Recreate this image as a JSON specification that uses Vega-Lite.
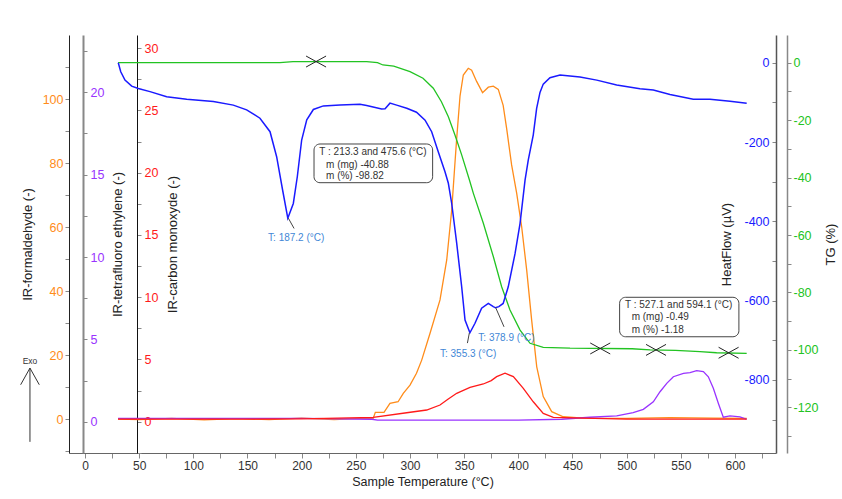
{
  "$schema": "https://vega.github.io/schema/vega-lite/v6.json",
  "width": 707,
  "height": 418,
  "autosize": {"type": "none"},
  "padding": {"left": 69, "top": 35, "right": 66, "bottom": 46},
  "background": "white",
  "config": {
    "view": {"stroke": null},
    "font": "Liberation Sans",
    "axis": {"grid": false, "labelFont": "Liberation Sans", "titleFont": "Liberation Sans", "titleFontWeight": "normal", "labelFontSize": 12.5, "titleFontSize": 13, "tickColor": "#888", "tickSize": 4, "titleColor": "#222"}
  },
  "datasets": {
    "hf": [
      {"t":30.7,"v":0},{"t":33,"v":-23},{"t":36.9,"v":-44},{"t":43.1,"v":-59},{"t":49.2,"v":-65},{"t":60,"v":-73},{"t":75.4,"v":-86},{"t":93.9,"v":-92},{"t":118.5,"v":-98},{"t":136.9,"v":-107},{"t":149.2,"v":-119},{"t":161.5,"v":-140},{"t":170.8,"v":-174},{"t":176.9,"v":-237},{"t":182.4,"v":-321},{"t":187.2,"v":-392},{"t":192.3,"v":-355},{"t":196,"v":-287},{"t":200,"v":-195},{"t":204.7,"v":-144},{"t":210.8,"v":-118},{"t":220,"v":-109},{"t":235.4,"v":-107},{"t":253.8,"v":-105},{"t":260,"v":-108},{"t":273.8,"v":-117},{"t":277,"v":-116},{"t":281.5,"v":-102},{"t":287.7,"v":-107},{"t":297,"v":-115},{"t":306,"v":-125},{"t":313.9,"v":-145},{"t":320,"v":-174},{"t":326,"v":-224},{"t":332.3,"v":-275},{"t":335.4,"v":-304},{"t":338.5,"v":-355},{"t":343.1,"v":-455},{"t":347.7,"v":-565},{"t":350.8,"v":-649},{"t":355.3,"v":-681},{"t":360,"v":-657},{"t":366.1,"v":-619},{"t":372.3,"v":-607},{"t":376.9,"v":-615},{"t":378.9,"v":-618},{"t":382,"v":-615},{"t":386,"v":-607},{"t":390.7,"v":-565},{"t":397,"v":-481},{"t":401.6,"v":-405},{"t":406.2,"v":-296},{"t":409.2,"v":-245},{"t":413.8,"v":-182},{"t":416.9,"v":-115},{"t":420,"v":-75},{"t":423,"v":-54},{"t":429.2,"v":-38},{"t":438.5,"v":-31},{"t":456.9,"v":-36},{"t":472.4,"v":-44},{"t":490.8,"v":-56},{"t":512.3,"v":-66},{"t":524.6,"v":-69},{"t":540,"v":-80},{"t":561.5,"v":-92},{"t":576.9,"v":-92},{"t":595.4,"v":-97},{"t":610.8,"v":-102}
    ],
    "tg": [
      {"t":30.5,"v":0},{"t":100,"v":0},{"t":180,"v":0},{"t":192,"v":0.4},{"t":260,"v":0.4},{"t":270,"v":0},{"t":275,"v":-0.8},{"t":285,"v":-1.2},{"t":300,"v":-3.1},{"t":312,"v":-5.4},{"t":321.5,"v":-8.9},{"t":329,"v":-13.6},{"t":335.4,"v":-18.8},{"t":341.5,"v":-25.2},{"t":347.7,"v":-32.1},{"t":355,"v":-41},{"t":358.5,"v":-45.5},{"t":367.7,"v":-55.9},{"t":376.9,"v":-67.5},{"t":384.6,"v":-78},{"t":392.3,"v":-86.1},{"t":401.6,"v":-93.1},{"t":410.8,"v":-97.7},{"t":423,"v":-99.1},{"t":447.7,"v":-99.4},{"t":505,"v":-99.6},{"t":521.6,"v":-100},{"t":545,"v":-100.2},{"t":567.7,"v":-100.6},{"t":583,"v":-101},{"t":610.8,"v":-101.2}
    ],
    "form": [
      {"t":30.5,"v":0},{"t":50,"v":-0.2},{"t":80,"v":0.2},{"t":110,"v":-0.3},{"t":140,"v":0.1},{"t":170,"v":-0.2},{"t":200,"v":0.3},{"t":230,"v":-0.2},{"t":255,"v":0.2},{"t":266,"v":0.2},{"t":268,"v":2.1},{"t":276,"v":2.1},{"t":281.5,"v":4.9},{"t":289,"v":5.4},{"t":293.8,"v":8},{"t":300,"v":10.6},{"t":306,"v":14.3},{"t":310.8,"v":18.4},{"t":318.5,"v":26.8},{"t":327.7,"v":37.2},{"t":333.9,"v":49.7},{"t":338.5,"v":65.3},{"t":341.5,"v":80},{"t":343.1,"v":87.7},{"t":346.2,"v":101},{"t":349.2,"v":107.5},{"t":353.8,"v":109.6},{"t":356.9,"v":109},{"t":361.5,"v":105.5},{"t":367,"v":102},{"t":372.3,"v":103.7},{"t":376.9,"v":104},{"t":381.5,"v":103},{"t":386,"v":98},{"t":389.2,"v":90.8},{"t":393.8,"v":79.4},{"t":398.5,"v":70.5},{"t":403.1,"v":60},{"t":407.7,"v":46.6},{"t":412.3,"v":30.9},{"t":417,"v":16.3},{"t":423,"v":7},{"t":430.8,"v":2.3},{"t":441.5,"v":0.7},{"t":460,"v":0.3},{"t":500,"v":0.2},{"t":540,"v":0.4},{"t":580,"v":0.3},{"t":610.8,"v":0.2}
    ],
    "co": [
      {"t":30.5,"v":0.2},{"t":100,"v":0.2},{"t":200,"v":0.22},{"t":266,"v":0.35},{"t":296.9,"v":0.72},{"t":315.4,"v":0.94},{"t":327.7,"v":1.34},{"t":335,"v":1.8},{"t":343.1,"v":2.28},{"t":355.4,"v":2.76},{"t":367.7,"v":3.03},{"t":375,"v":3.3},{"t":380,"v":3.62},{"t":387.7,"v":3.89},{"t":395.4,"v":3.62},{"t":404.6,"v":2.68},{"t":413.8,"v":1.6},{"t":423,"v":0.67},{"t":432.3,"v":0.35},{"t":450.8,"v":0.3},{"t":500,"v":0.2},{"t":560,"v":0.2},{"t":610.8,"v":0.2}
    ],
    "tfe": [
      {"t":30.5,"v":0.2},{"t":200,"v":0.2},{"t":265,"v":0.15},{"t":270,"v":0.1},{"t":400,"v":0.1},{"t":440,"v":0.15},{"t":466,"v":0.27},{"t":490.8,"v":0.35},{"t":506,"v":0.55},{"t":515.4,"v":0.75},{"t":524.6,"v":1.21},{"t":530.8,"v":1.82},{"t":537,"v":2.33},{"t":543.1,"v":2.73},{"t":552.4,"v":2.94},{"t":558.5,"v":2.98},{"t":564.6,"v":3.1},{"t":570.8,"v":3.04},{"t":575.4,"v":2.73},{"t":580,"v":2.03},{"t":584.6,"v":1.12},{"t":589.2,"v":0.27},{"t":595.4,"v":0.35},{"t":604.6,"v":0.3},{"t":610.8,"v":0.15}
    ],
    "markers": [
      {"t":213.3,"v":0.4},{"t":475.6,"v":-99.5},{"t":527.1,"v":-100},{"t":594.1,"v":-101}
    ],
    "boxes": [
      {"t":211.4,"t2":320.9,"v":-205,"v2":-302.6},
      {"t":493.5,"t2":603.6,"v":-591.5,"v2":-691}
    ],
    "boxtext": [
      {"t":216.3,"v":-224,"label":"T : 213.3 and 475.6 (°C)"},
      {"t":222.5,"v":-257,"label":"m (mg) -40.88"},
      {"t":222.5,"v":-286,"label":"m (%) -98.82"},
      {"t":498.5,"v":-610,"label":"T : 527.1 and 594.1 (°C)"},
      {"t":504.6,"v":-642,"label":"m (mg) -0.49"},
      {"t":504.6,"v":-674,"label":"m (%) -1.18"}
    ],
    "peaks": [
      {"t":169,"v":-441,"label":"T: 187.2 (°C)"},
      {"t":327.7,"v":-735,"label":"T: 355.3 (°C)"},
      {"t":363.1,"v":-693,"label":"T: 378.9 (°C)"}
    ],
    "leaders": [
      {"t":187.7,"v":-392,"t2":193,"v2":-418},
      {"t":354.8,"v":-681,"t2":353,"v2":-707},
      {"t":379,"v":-617,"t2":386.8,"v2":-666}
    ],
    "exoarrow": [
      {"t":-50.8,"v":-770,"t2":-50.8,"v2":-956},
      {"t":-59.4,"v":-812,"t2":-50.8,"v2":-770},
      {"t":-42.2,"v":-812,"t2":-50.8,"v2":-770}
    ],
    "exotext": [
      {"t":-50.8,"v":-751,"label":"Exo"}
    ]
  },
  "encoding": {
    "x": {"field": "t", "type": "quantitative", "scale": {"domain": [-14.77, 637.85], "nice": false, "zero": false},
      "axis": {"orient": "bottom", "title": "Sample Temperature (°C)", "values": [0,25,50,75,100,125,150,175,200,225,250,275,300,325,350,375,400,425,450,475,500,525,550,575,600,625], "labelExpr": "datum.value % 50 === 0 ? '' + datum.value : ''", "labelFontSize": 12, "labelColor": "#333", "titleFontSize": 12.5, "domainColor": "#666", "tickSize": 5, "labelPadding": 2, "titlePadding": 4}}
  },
  "layer": [
    {
      "data": {"name": "form"},
      "mark": {"type": "line", "color": "#ff8c1a", "strokeWidth": 1.3},
      "encoding": {
        "y": {"field": "v", "type": "quantitative", "scale": {"domain": [-10.625, 120], "nice": false, "zero": false},
          "axis": {"orient": "left", "offset": 0, "title": "IR-formaldehyde (-)", "values": [-10,0,10,20,30,40,50,60,70,80,90,100,110], "labelExpr": "datum.value % 20 === 0 ? '' + datum.value : ''", "labelColor": "#ff8c1a", "domainColor": "#222", "labelPadding": 2, "titlePadding": 8}}
      }
    },
    {
      "data": {"name": "tfe"},
      "mark": {"type": "line", "color": "#9933ff", "strokeWidth": 1.3},
      "encoding": {
        "y": {"field": "v", "type": "quantitative", "scale": {"domain": [-1.9, 23.48], "nice": false, "zero": false},
          "axis": {"orient": "right", "offset": -693, "title": "IR-tetrafluoro ethylene (-)", "titleAngle": -90, "titleBaseline": "top", "values": [0,2.5,5,7.5,10,12.5,15,17.5,20,22.5], "labelExpr": "datum.value % 5 === 0 ? '' + datum.value : ''", "labelColor": "#9933ff", "domainColor": "#888", "domainWidth": 2, "labelPadding": 3, "titlePadding": 8}}
      }
    },
    {
      "data": {"name": "co"},
      "mark": {"type": "line", "color": "#ff1a1a", "strokeWidth": 1.3},
      "encoding": {
        "y": {"field": "v", "type": "quantitative", "scale": {"domain": [-2.514, 31.06], "nice": false, "zero": false},
          "axis": {"orient": "right", "offset": -639, "title": "IR-carbon monoxyde (-)", "titleAngle": -90, "titleBaseline": "top", "values": [-2.5,0,2.5,5,7.5,10,12.5,15,17.5,20,22.5,25,27.5,30], "labelExpr": "datum.value % 5 === 0 ? '' + datum.value : ''", "labelColor": "#ff1a1a", "domainColor": "#111", "labelPadding": 3, "titlePadding": 9}}
      }
    },
    {
      "data": {"name": "tg"},
      "mark": {"type": "line", "color": "#22c322", "strokeWidth": 1.3},
      "encoding": {
        "y": {"field": "v", "type": "quantitative", "scale": {"domain": [-135.9, 9.64], "nice": false, "zero": false},
          "axis": {"orient": "right", "offset": 11, "title": "TG (%)", "titleAngle": -90, "titleBaseline": "top", "values": [0,-10,-20,-30,-40,-50,-60,-70,-80,-90,-100,-110,-120,-130], "labelExpr": "datum.value % 20 === 0 ? '' + datum.value : ''", "labelColor": "#22c322", "labelOverlap": false, "domainColor": "#888", "domainWidth": 1.5, "labelPadding": 2, "titlePadding": 6}}
      }
    },
    {
      "data": {"name": "markers"},
      "mark": {"type": "point", "shape": "M-1,-0.55L1,0.55M-1,0.55L1,-0.55", "size": 400, "stroke": "#222", "strokeWidth": 1, "filled": false, "opacity": 1},
      "encoding": {
        "y": {"field": "v", "type": "quantitative", "scale": {"domain": [-135.9, 9.64], "nice": false, "zero": false}, "axis": null}
      }
    },
    {
      "data": {"name": "hf"},
      "mark": {"type": "line", "color": "#1a1aff", "strokeWidth": 1.5},
      "encoding": {
        "y": {"field": "v", "type": "quantitative", "scale": {"domain": [-984.1, 69.8], "nice": false, "zero": false},
          "axis": {"orient": "left", "offset": -707, "title": "HeatFlow (µV)", "values": [0,-100,-200,-300,-400,-500,-600,-700,-800,-900], "labelExpr": "datum.value % 200 === 0 ? '' + datum.value : ''", "labelColor": "#1a1aff", "domainColor": "#555", "domainWidth": 1.5, "labelPadding": 3, "titlePadding": 10}}
      }
    },
    {
      "data": {"name": "boxes"},
      "mark": {"type": "rect", "fill": "white", "stroke": "#444", "strokeWidth": 1, "cornerRadius": 6},
      "encoding": {
        "x2": {"field": "t2"},
        "y": {"field": "v", "type": "quantitative", "scale": {"domain": [-984.1, 69.8], "nice": false, "zero": false}, "axis": null},
        "y2": {"field": "v2"}
      }
    },
    {
      "data": {"name": "boxtext"},
      "mark": {"type": "text", "align": "left", "baseline": "middle", "fontSize": 10, "color": "#333"},
      "encoding": {
        "y": {"field": "v", "type": "quantitative", "scale": {"domain": [-984.1, 69.8], "nice": false, "zero": false}, "axis": null},
        "text": {"field": "label"}
      }
    },
    {
      "data": {"name": "leaders"},
      "mark": {"type": "rule", "color": "#444", "strokeWidth": 1},
      "encoding": {
        "x2": {"field": "t2"},
        "y": {"field": "v", "type": "quantitative", "scale": {"domain": [-984.1, 69.8], "nice": false, "zero": false}, "axis": null},
        "y2": {"field": "v2"}
      }
    },
    {
      "data": {"name": "peaks"},
      "mark": {"type": "text", "align": "left", "baseline": "middle", "fontSize": 10, "color": "#3f87d6"},
      "encoding": {
        "y": {"field": "v", "type": "quantitative", "scale": {"domain": [-984.1, 69.8], "nice": false, "zero": false}, "axis": null},
        "text": {"field": "label"}
      }
    },
    {
      "data": {"name": "exoarrow"},
      "mark": {"type": "rule", "color": "#333", "strokeWidth": 1},
      "encoding": {
        "x2": {"field": "t2"},
        "y": {"field": "v", "type": "quantitative", "scale": {"domain": [-984.1, 69.8], "nice": false, "zero": false}, "axis": null},
        "y2": {"field": "v2"}
      }
    },
    {
      "data": {"name": "exotext"},
      "mark": {"type": "text", "align": "center", "baseline": "middle", "fontSize": 8.5, "color": "#333"},
      "encoding": {
        "y": {"field": "v", "type": "quantitative", "scale": {"domain": [-984.1, 69.8], "nice": false, "zero": false}, "axis": null},
        "text": {"field": "label"}
      }
    }
  ],
  "resolve": {"scale": {"y": "independent"}}
}
